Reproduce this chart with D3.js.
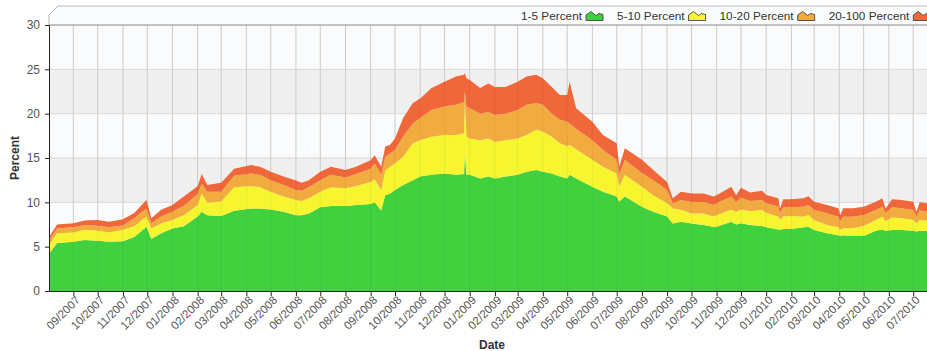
<!DOCTYPE html>
<html>
<head>
<meta charset="utf-8">
<script src="https://cdn.jsdelivr.net/npm/d3@7"></script>
<style>
  html, body { margin: 0; padding: 0; background: #fff; overflow: hidden; }
  svg { display: block; font-family: "Liberation Sans", Arial, sans-serif; }
</style>
</head>
<body>
<div id="chart"></div>
<script>
// sample dates (roughly twice a month plus the spikes)
const dates = [
  "2007-08-02","2007-08-12","2007-09-01","2007-09-15","2007-10-01","2007-10-15","2007-11-01","2007-11-15","2007-11-30","2007-12-06",
  "2007-12-18","2008-01-01","2008-01-15","2008-02-01","2008-02-06","2008-02-13","2008-03-01","2008-03-17","2008-04-07","2008-04-18",
  "2008-05-01","2008-05-17","2008-06-01","2008-06-08","2008-06-17","2008-07-01","2008-07-14","2008-08-01","2008-08-14","2008-09-01",
  "2008-09-06","2008-09-14","2008-09-19","2008-09-25","2008-10-01","2008-10-11","2008-10-23","2008-11-01","2008-11-15","2008-12-01",
  "2008-12-15","2008-12-25","2008-12-26","2008-12-28","2009-01-01","2009-01-14","2009-01-24","2009-02-01","2009-02-14","2009-03-01",
  "2009-03-12","2009-03-24","2009-04-01","2009-04-12","2009-04-22","2009-05-01","2009-05-04","2009-05-12","2009-06-01","2009-06-14",
  "2009-07-01","2009-07-04","2009-07-11","2009-08-01","2009-08-15","2009-09-01","2009-09-08","2009-09-18","2009-10-01","2009-10-16",
  "2009-10-28","2009-11-01","2009-11-19","2009-11-25","2009-12-01","2009-12-12","2009-12-27","2010-01-01","2010-01-16","2010-01-18",
  "2010-01-22","2010-02-01","2010-02-16","2010-02-22","2010-03-01","2010-03-17","2010-03-31","2010-04-02","2010-04-06","2010-04-18",
  "2010-05-01","2010-05-16","2010-05-24","2010-05-28","2010-06-05","2010-06-17","2010-07-01","2010-07-05","2010-07-09","2010-07-18"
];

// 1-5 Percent
const pct1to5 = [
  4.2,5.4,5.56,5.75,5.68,5.55,5.6,6.1,7.25,5.9,
  6.5,7.05,7.3,8.4,8.95,8.55,8.45,9.05,9.3,9.3,
  9.2,8.95,8.55,8.55,8.75,9.45,9.6,9.6,9.7,9.8,
  10.0,9.1,10.8,11.0,11.4,11.95,12.5,12.9,13.1,13.25,
  13.1,13.2,15.5,13.1,13.1,12.7,12.9,12.7,12.9,13.1,
  13.45,13.65,13.45,13.25,12.9,12.7,13.1,12.7,11.75,11.2,
  10.65,10.1,10.65,9.5,8.95,8.4,7.6,7.8,7.6,7.45,
  7.25,7.25,7.8,7.5,7.63,7.45,7.33,7.18,6.95,6.9,
  7.0,7.0,7.18,7.26,6.88,6.5,6.3,6.2,6.28,6.2,
  6.2,6.8,6.95,6.8,6.88,6.88,6.8,6.7,6.8,6.8
];
// 5-10 Percent
const pct5to10 = [
  1.0,1.1,1.04,1.15,1.12,1.05,1.3,1.2,1.15,1.15,
  1.1,0.95,1.25,1.3,2.05,1.4,1.65,2.65,2.55,2.4,
  2.0,1.7,1.7,1.6,1.7,1.75,2.1,2.0,2.15,2.5,
  2.6,2.3,2.8,3.0,3.0,3.2,4.15,4.1,4.3,4.35,
  4.5,4.6,6.0,4.3,4.1,4.3,4.3,4.1,4.1,4.1,
  4.15,4.55,4.55,4.15,3.75,3.6,3.4,3.3,3.05,2.8,
  2.6,1.7,2.45,2.25,1.85,1.5,1.7,1.35,1.15,1.3,
  1.15,1.3,1.35,1.4,1.57,1.55,1.81,1.65,1.43,1.1,
  1.4,1.46,1.2,1.31,1.12,0.94,0.88,0.7,0.79,0.87,
  1.13,1.2,1.43,1.1,1.42,1.32,1.2,0.9,1.2,1.13
];
// 10-20 Percent
const pct10to20 = [
  0.55,0.55,0.6,0.55,0.55,0.6,0.5,0.9,0.9,0.6,
  0.8,0.95,1.05,1.25,1.1,1.25,1.1,1.3,1.4,1.4,
  1.3,1.3,1.15,1.15,1.25,1.3,1.4,1.2,1.35,1.5,
  1.8,1.7,1.5,1.5,1.5,2.25,2.25,2.5,3.0,3.2,
  3.4,3.5,1.0,3.4,3.4,3.0,3.0,3.05,3.0,3.2,
  3.4,3.0,3.0,2.6,2.65,2.8,2.4,2.3,2.2,1.9,
  1.55,1.3,1.7,1.55,1.7,1.5,0.6,1.1,1.3,1.3,
  1.3,1.35,1.5,1.1,1.35,1.15,1.12,1.07,1.12,0.8,
  1.05,0.98,1.12,1.13,1.14,1.32,1.2,1.0,1.31,1.31,
  1.24,1.14,1.12,0.9,1.14,1.12,1.14,0.8,1.1,1.02
];
// 20-100 Percent
const pct20to100 = [
  0.35,0.45,0.43,0.5,0.65,0.6,0.7,0.6,0.95,0.55,
  0.75,0.75,1.05,0.85,1.1,0.75,1.0,0.8,0.95,0.9,
  0.95,0.95,1.05,0.9,0.8,0.95,0.9,0.85,0.8,0.95,
  0.9,0.9,1.2,1.0,1.3,2.1,2.3,2.2,2.5,2.8,
  3.2,3.1,2.1,3.2,3.2,2.9,3.2,3.15,3.0,3.2,
  3.2,3.2,3.0,3.0,2.8,3.0,4.7,2.3,2.1,1.7,
  1.85,0.9,1.3,1.5,1.15,0.9,0.55,0.95,0.95,0.95,
  0.95,0.9,1.1,0.8,1.1,0.95,1.04,0.93,0.95,0.5,
  0.9,0.9,0.95,1.0,0.93,0.94,0.94,0.67,0.94,0.94,
  0.93,0.93,0.95,0.5,0.9,0.94,0.93,0.55,0.9,0.95
];

const seriesNames = ["1-5 Percent", "5-10 Percent", "10-20 Percent", "20-100 Percent"];
const seriesColors = ["#41d13f", "#f6f52f", "#f2ab3f", "#f0673a"];
const yTicks = [0, 5, 10, 15, 20, 25, 30];

const W = 927, H = 351;
const margin = { top: 25, right: 0, bottom: 60, left: 49 };

const parse = d3.utcParse("%Y-%m-%d");
const keys = ["a", "b", "c", "d"];
const rows = dates.map((s, i) => ({
  date: parse(s),
  a: pct1to5[i], b: pct5to10[i], c: pct10to20[i], d: pct20to100[i]
}));
const stacked = d3.stack().keys(keys)(rows);

const x = d3.scaleUtc()
  .domain([parse("2007-08-02"), parse("2010-07-18")])
  .range([margin.left, W - margin.right]);
const y = d3.scaleLinear()
  .domain([0, 30])
  .range([H - margin.bottom, margin.top]);

const svg = d3.select("#chart").append("svg")
  .attr("width", W).attr("height", H);

// legend box with the cut corner on top
svg.append("path")
  .attr("d", `M${margin.left},${margin.top} L${margin.left},15 L58,6 L${W + 5},6 L${W + 5},${margin.top}`)
  .attr("fill", "#fbfcfd").attr("stroke", "#b5b5b5");

// plot background + alternating bands
svg.append("rect")
  .attr("x", margin.left).attr("y", y(30))
  .attr("width", W - margin.left).attr("height", y(0) - y(30))
  .attr("fill", "#fafbfc");
svg.append("g").selectAll("rect")
  .data([0, 10, 20]).join("rect")
  .attr("x", margin.left).attr("y", d => y(d + 5))
  .attr("width", W - margin.left).attr("height", d => y(d) - y(d + 5))
  .attr("fill", "#efefef");

const months = x.ticks(d3.utcMonth.every(1)).filter(d => d >= parse("2007-09-01"));

// grid
svg.append("g").selectAll("line")
  .data(months).join("line")
  .attr("x1", d => x(d)).attr("x2", d => x(d))
  .attr("y1", y(30)).attr("y2", y(0))
  .attr("stroke", "#d6d6d6");
svg.append("g").selectAll("line")
  .data(yTicks.slice(1, -1)).join("line")
  .attr("x1", margin.left).attr("x2", W)
  .attr("y1", d => y(d)).attr("y2", d => y(d))
  .attr("stroke", "#d9d9d9");

// stacked areas
const area = d3.area()
  .x(d => x(d.data.date))
  .y0(d => y(d[0]))
  .y1(d => y(d[1]));
svg.append("g").selectAll("path")
  .data(stacked).join("path")
  .attr("d", area)
  .attr("fill", (d, i) => seriesColors[i]);

// faint grid seen through the areas
svg.append("g").selectAll("line")
  .data(months).join("line")
  .attr("x1", d => x(d)).attr("x2", d => x(d))
  .attr("y1", y(30)).attr("y2", y(0))
  .attr("stroke", "#000").attr("stroke-opacity", 0.05);

// top line of plot
svg.append("line")
  .attr("x1", margin.left).attr("x2", W)
  .attr("y1", y(30)).attr("y2", y(30))
  .attr("stroke", "#8a8a8a");

// y axis
svg.append("g")
  .attr("transform", `translate(${margin.left},0)`)
  .call(d3.axisLeft(y).tickValues(yTicks).tickSize(4).tickPadding(5))
  .call(g => g.select(".domain").attr("stroke", "#222"))
  .call(g => g.selectAll(".tick line").attr("stroke", "#222"))
  .call(g => g.selectAll("text").attr("font-size", 12).attr("fill", "#555")
    .attr("font-family", "Liberation Sans, Arial, sans-serif"));

// x axis
svg.append("g")
  .attr("transform", `translate(0,${y(0)})`)
  .call(d3.axisBottom(x).tickValues(months).tickFormat(d3.utcFormat("%m/%Y")).tickSize(5).tickSizeOuter(0))
  .call(g => g.select(".domain").attr("stroke", "#222"))
  .call(g => g.selectAll(".tick line").attr("stroke", "#222"))
  .call(g => g.selectAll("text")
    .attr("font-size", 11.5).attr("fill", "#555")
    .attr("font-family", "Liberation Sans, Arial, sans-serif")
    .attr("text-anchor", "end")
    .attr("dy", null)
    .attr("transform", "translate(4,7) rotate(-45)")
    .attr("y", 0).attr("x", 0)
    .attr("dominant-baseline", "central"));

// axis titles
svg.append("text")
  .attr("x", (margin.left + W) / 2 + 4).attr("y", 349)
  .attr("text-anchor", "middle")
  .attr("font-size", 12).attr("font-weight", "bold").attr("fill", "#333")
  .text("Date");
svg.append("text")
  .attr("transform", `translate(19,${y(15)}) rotate(-90)`)
  .attr("text-anchor", "middle")
  .attr("font-size", 12).attr("font-weight", "bold").attr("fill", "#333")
  .text("Percent");

// legend
const lg = svg.append("g");
let lx = 521;
seriesNames.forEach((name, i) => {
  const t = lg.append("text")
    .attr("x", lx).attr("y", 19.5)
    .attr("font-size", 11.8).attr("fill", "#333")
    .text(name);
  const tw = t.node().getComputedTextLength();
  const ix = lx + tw + 4;
  lg.append("path")
    .attr("d", `M${ix},20.5 L${ix},15 L${ix + 5},11.5 L${ix + 10},15.5 L${ix + 13},13.5 L${ix + 17},14.5 L${ix + 17},20.5 Z`)
    .attr("fill", seriesColors[i]).attr("stroke", "#333").attr("stroke-width", 0.8);
  lx = ix + 17 + 14;
});
</script>
</body>
</html>
